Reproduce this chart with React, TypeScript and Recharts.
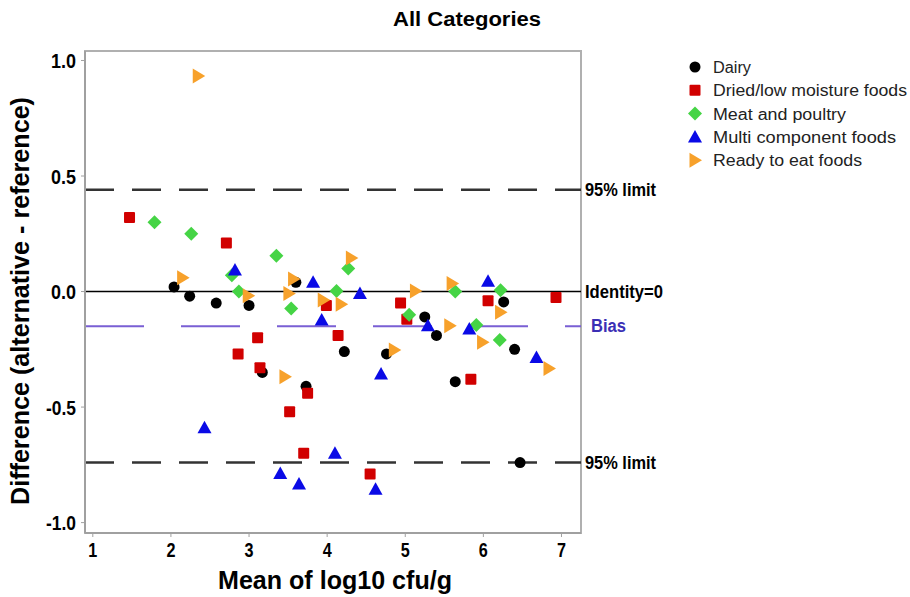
import React from 'react';
import { ScatterChart, Scatter, XAxis, YAxis, ReferenceLine, ReferenceArea } from 'recharts';

// values (mean of log10 cfu/g vs difference)
const dairyX = [2.04, 2.24, 2.58, 3.0, 3.6, 3.17, 3.73, 4.22, 4.76, 5.25, 5.4, 5.64, 6.26, 6.4, 6.47];
const dairyY = [0.02, -0.02, -0.05, -0.06, 0.04, -0.35, -0.41, -0.26, -0.27, -0.11, -0.19, -0.39, -0.045, -0.25, -0.74];

const driedX = [1.47, 2.71, 2.86, 3.11, 3.14, 3.75, 3.52, 3.7, 3.99, 4.14, 4.94, 5.02, 6.06, 5.84, 6.93, 4.55];
const driedY = [0.32, 0.21, -0.27, -0.2, -0.33, -0.44, -0.52, -0.7, -0.06, -0.19, -0.05, -0.12, -0.04, -0.38, -0.026, -0.79];

const meatX = [1.79, 2.26, 2.78, 2.87, 3.35, 3.54, 4.12, 4.27, 5.05, 5.64, 5.91, 6.22, 6.21];
const meatY = [0.3, 0.25, 0.07, 0.0, 0.155, -0.073, 0.002, 0.1, -0.1, 0.0, -0.145, 0.006, -0.21];

const multiX = [2.43, 2.82, 3.82, 3.93, 4.42, 4.69, 5.29, 5.82, 6.06, 6.68, 3.4, 3.64, 4.1, 4.62];
const multiY = [-0.59, 0.093, 0.04, -0.123, -0.008, -0.357, -0.148, -0.162, 0.045, -0.286, -0.787, -0.833, -0.7, -0.856];

const readyX = [2.35, 2.15, 2.99, 3.46, 3.57, 3.51, 3.95, 4.18, 4.31, 4.86, 5.13, 5.57, 5.6, 5.99, 6.22, 6.84];
const readyY = [0.933, 0.06, -0.018, -0.369, 0.054, -0.008, -0.037, -0.055, 0.145, -0.253, 0.002, -0.148, 0.035, -0.22, -0.09, -0.333];

const xTicks = [1, 2, 3, 4, 5, 6, 7];
const yTicks = [-1.0, -0.5, 0.0, 0.5, 1.0];

const upperLimit = 0.44;
const lowerLimit = -0.74;
const bias = -0.15;

const FONT = '"Liberation Sans", Arial, sans-serif';

const zip = (xs: number[], ys: number[]) => xs.map((x, i) => ({ x, y: ys[i] }));

type Kind = 'circle' | 'square' | 'diamond' | 'triangle' | 'arrow';

const series: { name: string; kind: Kind; color: string; data: { x: number; y: number }[]; width: number }[] = [
  { name: 'Dairy', kind: 'circle', color: '#000000', data: zip(dairyX, dairyY), width: 38 },
  { name: 'Dried/low moisture foods', kind: 'square', color: '#d10000', data: zip(driedX, driedY), width: 194 },
  { name: 'Meat and poultry', kind: 'diamond', color: '#45d445', data: zip(meatX, meatY), width: 133 },
  { name: 'Multi component foods', kind: 'triangle', color: '#0a0ae6', data: zip(multiX, multiY), width: 183 },
  { name: 'Ready to eat foods', kind: 'arrow', color: '#f7a12b', data: zip(readyX, readyY), width: 149 },
];

function Marker({ kind, cx, cy, fill }: { kind: Kind; cx: number; cy: number; fill: string }) {
  if (cx == null || cy == null) return null;
  switch (kind) {
    case 'circle':
      return <circle cx={cx} cy={cy} r={5.5} fill={fill} />;
    case 'square':
      return <rect x={cx - 5.5} y={cy - 5.5} width={11} height={11} rx={1} fill={fill} />;
    case 'diamond':
      return <polygon points={`${cx},${cy - 7} ${cx + 7},${cy} ${cx},${cy + 7} ${cx - 7},${cy}`} fill={fill} />;
    case 'triangle':
      return <polygon points={`${cx},${cy - 7} ${cx + 7},${cy + 5.5} ${cx - 7},${cy + 5.5}`} fill={fill} />;
    default:
      return <polygon points={`${cx - 5.5},${cy - 7.5} ${cx + 7},${cy} ${cx - 5.5},${cy + 7.5}`} fill={fill} />;
  }
}

const SideLabel = (props: any) => {
  const vb = props.viewBox || {};
  const x = (vb.x ?? 85) + (vb.width ?? 496) + (props.dx ?? 4);
  const y = (vb.y ?? 0) + 6;
  return (
    <text x={x} y={y} fill={props.color || '#000'} fontFamily={FONT} fontWeight={700} fontSize={18}
      textLength={props.len} lengthAdjust="spacingAndGlyphs">
      {props.text}
    </text>
  );
};

const XTick = (props: any) => (
  <text x={props.x} y={557} textAnchor="middle" fontFamily={FONT} fontWeight={700} fontSize={21} fill="#000"
    textLength={9} lengthAdjust="spacingAndGlyphs">
    {props.payload.value}
  </text>
);

const YTick = (props: any) => {
  const v = props.payload.value as number;
  const label = v.toFixed(1);
  return (
    <text x={76} y={props.y + 7.5} textAnchor="end" fontFamily={FONT} fontWeight={700} fontSize={20} fill="#000"
      textLength={v < 0 ? 30 : 25} lengthAdjust="spacingAndGlyphs">
      {label}
    </text>
  );
};

export default function App() {
  return (
    <div style={{ position: 'absolute', left: 0, top: 0, width: 910, height: 597, background: '#fff' }}>
      <ScatterChart width={910} height={597} margin={{ top: 51, right: 329, bottom: 0, left: 0 }}>
        <XAxis type="number" dataKey="x" domain={[0.9, 7.25]} ticks={xTicks} allowDataOverflow
          height={64} axisLine={{ stroke: '#a0a0a0', strokeWidth: 2 }} tickLine={{ stroke: '#a0a0a0' }} tickSize={4}
          tick={<XTick />} interval={0} />
        <YAxis type="number" dataKey="y" domain={[-1.045, 1.041]} ticks={yTicks} allowDataOverflow
          width={85} axisLine={{ stroke: '#a0a0a0', strokeWidth: 2 }} tickLine={{ stroke: '#a0a0a0' }} tickSize={4}
          tick={<YTick />} interval={0} />
        <ReferenceArea x1={0.9} x2={7.25} y1={-1.045} y2={1.041} fill="none" stroke="#b0b0b0" strokeWidth={2} />
        <ReferenceLine y={upperLimit} stroke="#333" strokeWidth={2.5} strokeDasharray="29 18"
          label={<SideLabel text="95% limit" len={71} />} />
        <ReferenceLine y={0} stroke="#000" strokeWidth={1.5}
          label={<SideLabel text="Identity=0" len={78} />} />
        <ReferenceLine y={bias} stroke="#7a5fd4" strokeWidth={2} strokeDasharray="59 37"
          label={<SideLabel text="Bias" len={35} dx={10} color="#3b2fb5" />} />
        <ReferenceLine y={lowerLimit} stroke="#333" strokeWidth={2.5} strokeDasharray="29 18"
          label={<SideLabel text="95% limit" len={71} />} />
        {series.map((s) => (
          <Scatter key={s.name} name={s.name} data={s.data} isAnimationActive={false}
            shape={(p: any) => <Marker kind={s.kind} cx={p.cx} cy={p.cy} fill={s.color} />} />
        ))}
      </ScatterChart>
      <svg width={910} height={597} style={{ position: 'absolute', left: 0, top: 0, pointerEvents: 'none' }}>
        <text x={467} y={26} textAnchor="middle" fontFamily={FONT} fontWeight={700} fontSize={20}
          textLength={148} lengthAdjust="spacingAndGlyphs">All Categories</text>
        <text x={335} y={589} textAnchor="middle" fontFamily={FONT} fontWeight={700} fontSize={26}
          textLength={234} lengthAdjust="spacingAndGlyphs">Mean of log10 cfu/g</text>
        <text transform="translate(29,301) rotate(-90)" textAnchor="middle" fontFamily={FONT} fontWeight={700}
          fontSize={26} textLength={408} lengthAdjust="spacingAndGlyphs">Difference (alternative - reference)</text>
        {series.map((s, i) => (
          <g key={s.name}>
            <Marker kind={s.kind} cx={695} cy={67 + i * 23.3} fill={s.color} />
            <text x={713} y={67 + i * 23.3 + 6} fontFamily={FONT} fontSize={16} fill="#222"
              textLength={s.width} lengthAdjust="spacingAndGlyphs">{s.name}</text>
          </g>
        ))}
      </svg>
    </div>
  );
}
